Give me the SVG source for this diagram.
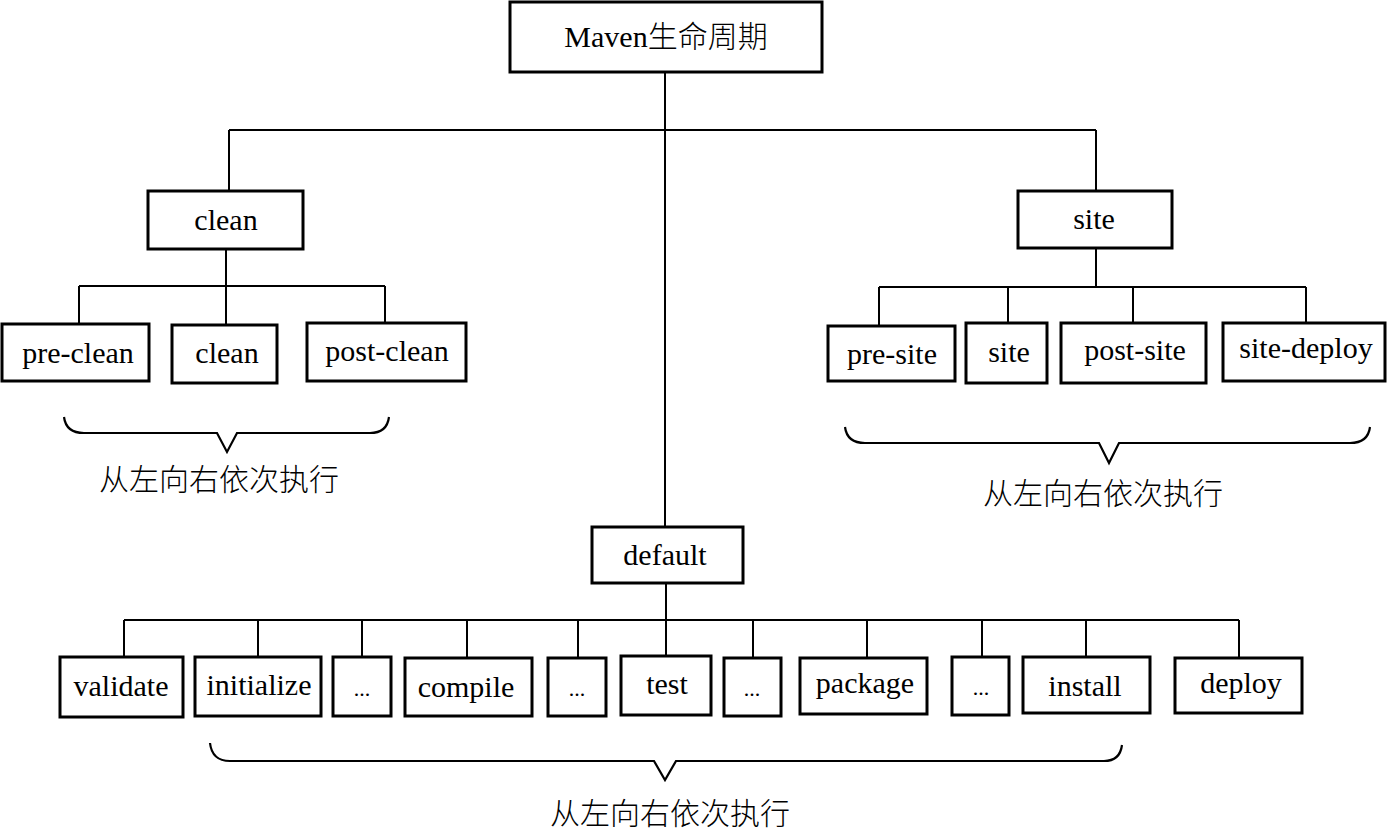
<svg xmlns="http://www.w3.org/2000/svg" width="1387" height="834" viewBox="0 0 1387 834">
<style>
.box{fill:#fff;stroke:#000;stroke-width:3}
.ln{fill:none;stroke:#000;stroke-width:2}
.br{fill:none;stroke:#000;stroke-width:2.2;stroke-linejoin:miter}
text{font-family:"Liberation Serif","Noto Sans CJK SC",serif;font-size:30px;fill:#000;text-anchor:middle}
.cn{font-family:"Noto Sans CJK SC","Liberation Serif",serif;font-size:30px;font-weight:300}
</style>
<rect width="1387" height="834" fill="#fff"/>
<g id="connectors">
<path class="ln" d="M665,72V527M229,130H1096M229,130V191M1096,130V191"/>
<path class="ln" d="M226,249V286M79,286H385M79,286V324M226,286V325M385,286V323"/>
<path class="ln" d="M1096,248V287M879,287H1306M879,287V326M1008,287V323M1133,287V323M1306,287V323"/>
<path class="ln" d="M666,583V620M124,620H1239M124,620V657M258,620V657M362,620V657M467,620V657M578,620V657M666,620V656M753,620V657M867,620V657M982,620V657M1086,620V657M1239,620V657"/>
<path class="br" d="M64,417Q66,433 84,433H217L227,452L237,433H370Q387,433 389,417"/>
<path class="br" d="M845,427Q847,443 865,443H1099L1109,463L1119,443H1350Q1368,443 1370,427"/>
<path class="br" d="M210,743Q212,761 230,761H654L665,780L676,761H1104Q1120,761 1122,745"/>
</g>
<g id="root"><rect class="box" x="510" y="2" width="312" height="70"/><text x="666" y="47">Maven<tspan class="cn">生命周期</tspan></text></g>
<g id="clean"><rect class="box" x="148" y="191" width="155" height="58"/><text x="226" y="230">clean</text></g>
<g id="site"><rect class="box" x="1018" y="191" width="154" height="57"/><text x="1094" y="229">site</text></g>
<g id="default"><rect class="box" x="592" y="527" width="151" height="56"/><text x="665" y="565">default</text></g>
<g id="pre-clean"><rect class="box" x="2" y="324" width="147" height="57"/><text x="78" y="363">pre-clean</text></g>
<g id="clean-phase"><rect class="box" x="172" y="325" width="105" height="58"/><text x="227" y="363">clean</text></g>
<g id="post-clean"><rect class="box" x="307" y="323" width="159" height="58"/><text x="387" y="361">post-clean</text></g>
<g id="pre-site"><rect class="box" x="828" y="326" width="127" height="55"/><text x="892" y="364">pre-site</text></g>
<g id="site-phase"><rect class="box" x="966" y="323" width="81" height="60"/><text x="1009" y="362">site</text></g>
<g id="post-site"><rect class="box" x="1061" y="323" width="145" height="60"/><text x="1135" y="360">post-site</text></g>
<g id="site-deploy"><rect class="box" x="1223" y="323" width="162" height="58"/><text x="1306" y="358">site-deploy</text></g>
<g id="validate"><rect class="box" x="60" y="657" width="123" height="60"/><text x="121" y="696">validate</text></g>
<g id="initialize"><rect class="box" x="195" y="657" width="126" height="59"/><text x="259" y="695">initialize</text></g>
<g id="dots1"><rect class="box" x="333" y="657" width="58" height="59"/><text x="362" y="696" style="font-size:22px">...</text></g>
<g id="compile"><rect class="box" x="405" y="658" width="127" height="58"/><text x="466" y="697">compile</text></g>
<g id="dots2"><rect class="box" x="548" y="658" width="58" height="58"/><text x="577" y="696" style="font-size:22px">...</text></g>
<g id="test"><rect class="box" x="621" y="656" width="90" height="59"/><text x="667" y="694">test</text></g>
<g id="dots3"><rect class="box" x="724" y="658" width="57" height="58"/><text x="752" y="696" style="font-size:22px">...</text></g>
<g id="package"><rect class="box" x="800" y="658" width="127" height="56"/><text x="865" y="693">package</text></g>
<g id="dots4"><rect class="box" x="952" y="657" width="57" height="58"/><text x="981" y="695" style="font-size:22px">...</text></g>
<g id="install"><rect class="box" x="1023" y="657" width="127" height="56"/><text x="1085" y="696">install</text></g>
<g id="deploy"><rect class="box" x="1175" y="658" width="127" height="55"/><text x="1241" y="693">deploy</text></g>
<g id="note-clean"><text class="cn" x="219" y="490">从左向右依次执行</text></g>
<g id="note-site"><text class="cn" x="1103" y="504">从左向右依次执行</text></g>
<g id="note-default"><text class="cn" x="670" y="824">从左向右依次执行</text></g>
</svg>
